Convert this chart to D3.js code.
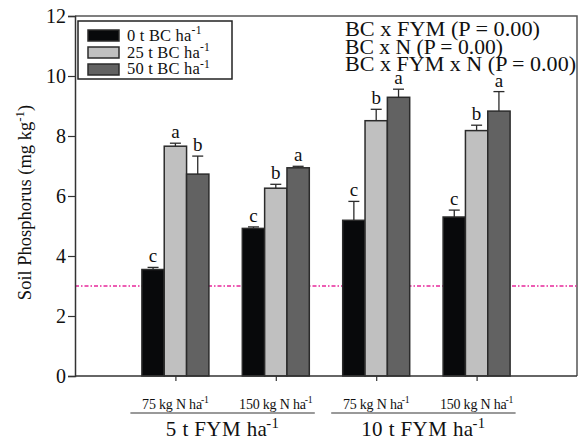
<!DOCTYPE html>
<html>
<head>
<meta charset="utf-8">
<script src="https://cdn.jsdelivr.net/npm/d3@7"></script>
<style>
  body { margin: 0; background: #fff; }
  text { font-family: "Liberation Serif", "DejaVu Serif", serif; fill: #111; }
</style>
</head>
<body>
<div id="chart"></div>
<script>
// data
const groups = ["5-75", "5-150", "10-75", "10-150"];
const series = ["0 t BC", "25 t BC", "50 t BC"];
const bc0 = [3.55, 4.92, 5.19, 5.30];
const bc25 = [7.66, 6.26, 8.51, 8.18];
const bc50 = [6.73, 6.94, 9.29, 8.83];
const err0 = [0.07, 0.05, 0.63, 0.23];
const err25 = [0.10, 0.13, 0.38, 0.18];
const err50 = [0.60, 0.05, 0.27, 0.65];
const letters0 = ["c", "c", "c", "c"];
const letters25 = ["a", "b", "b", "b"];
const letters50 = ["b", "a", "a", "a"];
const nLabels = ["75 kg N ha", "150 kg N ha", "75 kg N ha", "150 kg N ha"];
const fymLabels = ["5 t FYM ha", "10 t FYM ha"];
const yTicks = [0, 2, 4, 6, 8, 10, 12];
const threshold = 3;
const stats = ["BC x FYM (P = 0.00)", "BC x N (P = 0.00)", "BC x FYM x N (P = 0.00)"];
const statWidths = [195, 158, 231];

const colors = ["#08090b", "#c0c0c0", "#626262"];

const width = 587, height = 443;
const plotLeft = 75, plotRight = 577, plotTop = 16, plotBottom = 376;

const svg = d3.select("#chart").append("svg")
    .attr("width", width)
    .attr("height", height);

// scales
const x = d3.scaleLinear().domain([0, 5]).range([plotLeft, plotRight]);
const y = d3.scaleLinear().domain([0, 12]).range([plotBottom, plotTop]);
const inner = d3.scaleBand().domain(series).range([-33.5, 33.5]);

// build rows for the bars
const values = [bc0, bc25, bc50];
const errs = [err0, err25, err50];
const letters = [letters0, letters25, letters50];
const rows = [];
groups.forEach((g, gi) => {
    series.forEach((s, si) => {
        rows.push({ g: gi + 1, s: s, si: si, v: values[si][gi], e: errs[si][gi], l: letters[si][gi] });
    });
});

// frame top + right
svg.append("path")
    .attr("d", `M${plotLeft},${plotTop}H${plotRight}V${plotBottom}`)
    .attr("fill", "none")
    .attr("stroke", "#555")
    .attr("stroke-width", 1.5);

// threshold line
svg.append("line")
    .attr("x1", plotLeft).attr("x2", plotRight)
    .attr("y1", y(threshold)).attr("y2", y(threshold))
    .attr("stroke", "#e8279b")
    .attr("stroke-width", 1.5)
    .attr("stroke-dasharray", "4,2,1.5,2");

// bars
svg.selectAll("rect.bar")
    .data(rows)
    .enter().append("rect")
    .attr("class", "bar")
    .attr("x", d => x(d.g) + inner(d.s))
    .attr("y", d => y(d.v))
    .attr("width", inner.bandwidth())
    .attr("height", d => y(0) - y(d.v))
    .attr("fill", d => colors[d.si])
    .attr("stroke", "#2b2b2b")
    .attr("stroke-width", 1.5);

// error bars
const eb = svg.selectAll("g.err")
    .data(rows)
    .enter().append("g")
    .attr("class", "err")
    .attr("stroke", "#2b2b2b")
    .attr("stroke-width", 1.3);
eb.append("line")
    .attr("x1", d => x(d.g) + inner(d.s) + inner.bandwidth() / 2)
    .attr("x2", d => x(d.g) + inner(d.s) + inner.bandwidth() / 2)
    .attr("y1", d => y(d.v))
    .attr("y2", d => y(d.v + d.e));
eb.append("line")
    .attr("x1", d => x(d.g) + inner(d.s) + inner.bandwidth() / 2 - 5.5)
    .attr("x2", d => x(d.g) + inner(d.s) + inner.bandwidth() / 2 + 5.5)
    .attr("y1", d => y(d.v + d.e))
    .attr("y2", d => y(d.v + d.e));

// significance letters
svg.selectAll("text.letter")
    .data(rows)
    .enter().append("text")
    .attr("class", "letter")
    .attr("x", d => x(d.g) + inner(d.s) + inner.bandwidth() / 2)
    .attr("y", d => y(d.v + d.e) - 5)
    .attr("text-anchor", "middle")
    .style("font-size", "19px")
    .text(d => d.l);

// y axis
const yAxis = svg.append("g")
    .attr("transform", `translate(${plotLeft},0)`)
    .call(d3.axisLeft(y).tickValues(yTicks).tickSize(7).tickPadding(2).tickFormat(d3.format("d")));
yAxis.select(".domain").attr("stroke", "#333").attr("stroke-width", 1.5);
yAxis.selectAll(".tick line").attr("stroke", "#333").attr("stroke-width", 1.2);
yAxis.selectAll(".tick text")
    .style("font-family", "Liberation Serif, serif")
    .style("font-size", "20px")
    .attr("fill", "#111");

// x axis
const xAxis = svg.append("g")
    .attr("transform", `translate(0,${plotBottom})`)
    .call(d3.axisBottom(x).tickValues([1, 2, 3, 4]).tickSize(5).tickFormat(""));
xAxis.select(".domain").attr("stroke", "#333").attr("stroke-width", 1.5)
    .attr("d", `M${plotLeft},0H${plotRight}`);
xAxis.selectAll(".tick line").attr("stroke", "#333").attr("stroke-width", 1.2);

// helper: text with superscript -1
function supText(sel, label, sup, size, supDx) {
    sel.append("tspan").text(label);
    sel.append("tspan")
        .attr("dx", supDx)
        .attr("dy", -size * 0.4)
        .style("font-size", (size * 0.7) + "px")
        .text(sup);
}

// N labels
nLabels.forEach((t, i) => {
    const tx = svg.append("text")
        .attr("x", x(i + 1))
        .attr("y", 409)
        .attr("text-anchor", "middle")
        .style("font-size", "14px")
        .style("letter-spacing", "-0.2px");
    supText(tx, t, "-1", 14, -1);
});

// FYM group underline and labels
fymLabels.forEach((t, i) => {
    const x0 = x(2 * i + 1) - 45, x1 = x(2 * i + 2) + 39;
    svg.append("line")
        .attr("x1", x0).attr("x2", x1)
        .attr("y1", 413).attr("y2", 413)
        .attr("stroke", "#777")
        .attr("stroke-width", 1.6);
    const tx = svg.append("text")
        .attr("x", (x0 + x1) / 2)
        .attr("y", 436)
        .attr("text-anchor", "middle")
        .style("font-size", "21px")
        .style("letter-spacing", "0.4px");
    supText(tx, t, "-1", 21, -1);
});

// y label
const yl = svg.append("text")
    .attr("transform", `translate(31,${(95 + 310) / 2}) rotate(-90)`)
    .attr("text-anchor", "middle")
    .style("font-size", "18.5px");
supText(yl, "Soil Phosphorus (mg kg", "-1", 18.5, 0);
yl.append("tspan").attr("dy", 18.5 * 0.4).text(")");

// legend
const legend = svg.append("g");
legend.append("rect")
    .attr("x", 78).attr("y", 21)
    .attr("width", 154).attr("height", 58)
    .attr("fill", "#fff")
    .attr("stroke", "#222")
    .attr("stroke-width", 1.5);
series.forEach((s, i) => {
    legend.append("rect")
        .attr("x", 88).attr("y", 30 + i * 17)
        .attr("width", 31).attr("height", 11)
        .attr("fill", colors[i])
        .attr("stroke", "#2b2b2b")
        .attr("stroke-width", 1.5);
    const tx = legend.append("text")
        .attr("x", 127).attr("y", 41 + i * 16.6)
        .style("font-size", "16.5px")
        .style("letter-spacing", "0.2px");
    supText(tx, s + " ha", "-1", 16.5, 0);
});

// interaction stats
stats.forEach((t, i) => {
    svg.append("text")
        .attr("x", 345)
        .attr("y", 36 + i * 17.5)
        .attr("textLength", statWidths[i])
        .attr("lengthAdjust", "spacingAndGlyphs")
        .style("font-size", "20px")
        .text(t);
});
</script>
</body>
</html>
